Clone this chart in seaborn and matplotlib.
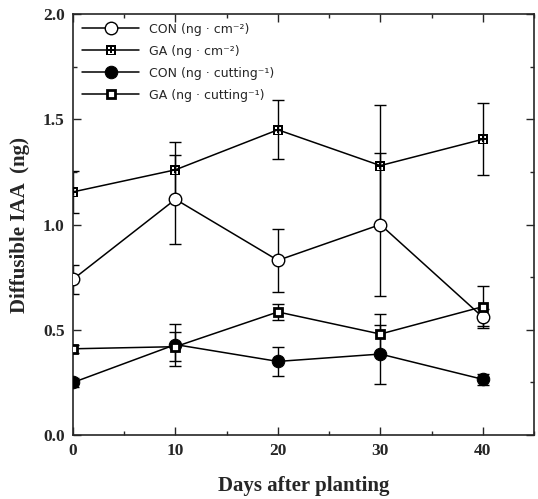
import matplotlib
matplotlib.use("Agg")
import matplotlib.pyplot as plt
from matplotlib.ticker import MultipleLocator
import seaborn as sns
import pandas as pd

# Datos
days = [0, 10, 20, 30, 40]
con_cm = [0.74, 1.12, 0.83, 1.00, 0.56]
con_cm_err = [0.07, 0.21, 0.15, 0.34, 0.04]
ga_cm = [1.155, 1.26, 1.45, 1.28, 1.405]
ga_cm_err = [0.10, 0.13, 0.14, 0.29, 0.17]
con_cut = [0.25, 0.43, 0.35, 0.385, 0.265]
con_cut_err = [0.02, 0.10, 0.07, 0.14, 0.025]
ga_cut = [0.41, 0.42, 0.585, 0.48, 0.61]
ga_cut_err = [0.02, 0.07, 0.04, 0.095, 0.10]

labels = ['CON (ng · cm⁻²)', 'GA (ng · cm⁻²)',
          'CON (ng · cutting⁻¹)', 'GA (ng · cutting⁻¹)']

sns.set_style("ticks")
plt.rcParams['font.family'] = ['DejaVu Sans']

fig = plt.figure(figsize=(5.38, 4.99), dpi=100)
ax = fig.add_axes([0.1357, 0.128, 0.8569, 0.844])

series = [
    (con_cm, con_cm_err, labels[0], dict(marker='o', markersize=9, markerfacecolor='white',
                                         markeredgecolor='black', markeredgewidth=1.0)),
    (ga_cm, ga_cm_err, labels[1], dict(marker=r'$\boxplus$', markersize=6.5,
                                       markerfacecolor='black', markeredgecolor='black',
                                       markeredgewidth=0.0)),
    (con_cut, con_cut_err, labels[2], dict(marker='o', markersize=9, markerfacecolor='black',
                                           markeredgecolor='black')),
    (ga_cut, ga_cut_err, labels[3], dict(marker='s', markersize=6, markerfacecolor='white',
                                         markeredgecolor='black', markeredgewidth=2.0)),
]

for vals, err, lab, style in series:
    df = pd.DataFrame({'day': days, 'iaa': vals})
    ax.errorbar(days, vals, yerr=err, fmt='none', ecolor='black', elinewidth=1.0,
                capsize=4, capthick=1.0, zorder=2)
    sns.lineplot(data=df, x='day', y='iaa', ax=ax, color='black', linewidth=1.1,
                 label=lab, zorder=3, **style)

ax.set_xlim(0, 45)
ax.set_ylim(0, 2.0)
ax.xaxis.set_major_locator(MultipleLocator(10))
ax.xaxis.set_minor_locator(MultipleLocator(5))
ax.yaxis.set_major_locator(MultipleLocator(0.5))
ax.yaxis.set_minor_locator(MultipleLocator(0.25))
ax.set_yticks([0, 0.5, 1.0, 1.5, 2.0])
ax.set_yticklabels(['0.0', '0.5', '1.0', '1.5', '2.0'])
ax.tick_params(which='both', direction='in', top=True, right=True, width=1.0)
ax.tick_params(which='major', length=6, pad=6)
ax.tick_params(which='minor', length=3)
for lbl in ax.get_xticklabels() + ax.get_yticklabels():
    lbl.set_fontfamily('Liberation Serif')
    lbl.set_fontweight('bold')
    lbl.set_fontsize(12.5)
for sp in ax.spines.values():
    sp.set_linewidth(1.2)

ax.set_xlabel('Days after planting', fontsize=15, fontweight='bold',
              fontfamily='Liberation Serif', labelpad=12)
ax.set_ylabel('Diffusible IAA  (ng)', fontsize=15, fontweight='bold',
              fontfamily='Liberation Serif', labelpad=9)

ax.legend(loc='upper left', frameon=False, fontsize=9, handlelength=4.6,
          borderaxespad=0.3, labelspacing=0.72, bbox_to_anchor=(0.0, 1.0))

fig.savefig('out.png', dpi=100)
